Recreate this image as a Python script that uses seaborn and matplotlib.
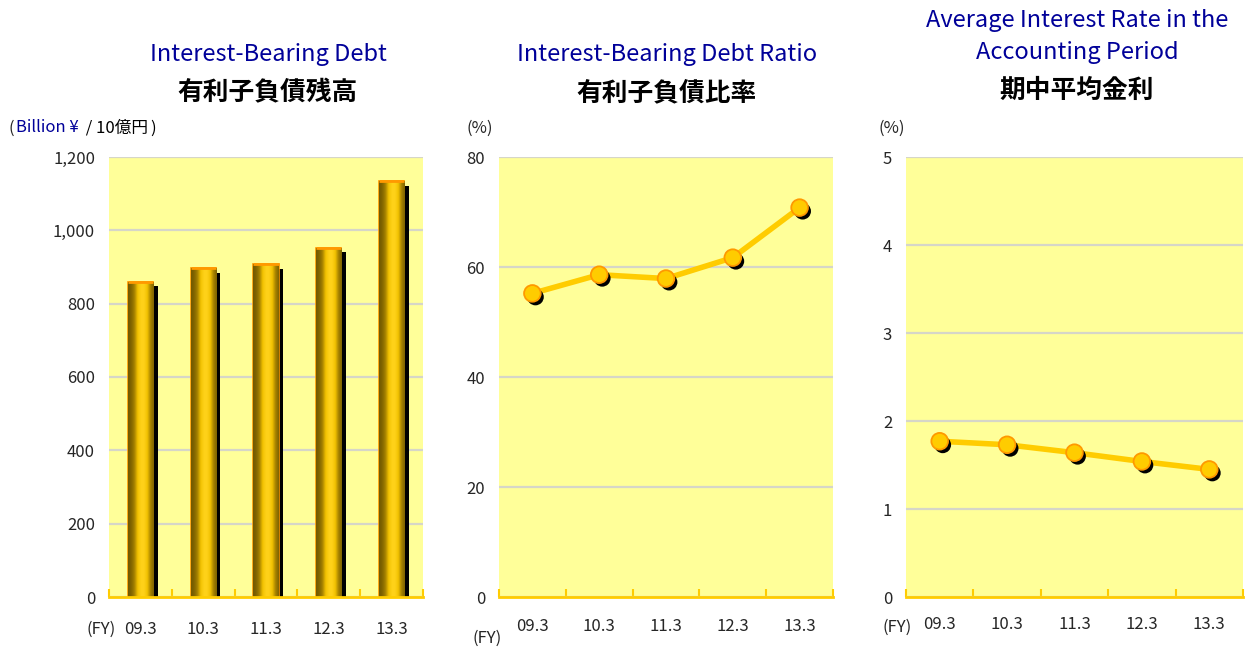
import numpy as np
import matplotlib
matplotlib.use("Agg")
import matplotlib.pyplot as plt
import matplotlib.patheffects as pe
import seaborn as sns

# data
years = ["09.3", "10.3", "11.3", "12.3", "13.3"]
debt = [860, 896, 907, 953, 1134]            # billion yen
debt_ratio = [55.2, 58.6, 57.9, 61.7, 70.8]  # %
avg_rate = [1.77, 1.73, 1.64, 1.54, 1.45]    # %

sns.set_style("white")
plt.rcParams["font.family"] = ["Noto Sans CJK JP", "DejaVu Sans"]

BG = "#FFFF99"
GOLD = "#FFCC00"
ORANGE = "#FF9900"
BLUE = "#000099"
GRID = "#D6D6C8"

fig = plt.figure(figsize=(12.45, 6.48), dpi=100)
W, H = 1245, 648


def fx(px):
    return px / W


def fy(py):
    return 1 - py / H


def make_ax(left, right, ymax, step, xpad):
    ax = fig.add_axes([fx(left), fy(597), fx(right - left), fy(157) - fy(597)])
    ax.set_facecolor(BG)
    ax.set_ylim(0, ymax)
    ax.set_yticks(np.arange(0, ymax + step / 2, step))
    ax.grid(axis="y", color=GRID, lw=1.6)
    ax.set_axisbelow(True)
    for s in ["left", "top", "right"]:
        ax.spines[s].set_visible(False)
    ax.spines["bottom"].set_color(GOLD)
    ax.spines["bottom"].set_linewidth(2)
    ax.tick_params(axis="y", length=0, pad=10, labelsize=12)
    ax.tick_params(axis="x", which="major", bottom=True, length=0,
                   pad=xpad, labelsize=12)
    ax.tick_params(axis="x", which="minor", bottom=True, length=6,
                   width=1.5, direction="in", color=GOLD)
    return ax


def finish_x(ax):
    ax.set_xlim(-0.5, 4.5)
    ax.set_xticks(range(len(years)))
    ax.set_xticklabels(years, fontsize=12)
    ax.set_xticks(np.arange(-0.5, 5, 1), minor=True)
    ax.set_xlabel("")
    ax.set_ylabel("")


# ---- chart 1: gold cylinder bars with a black drop shadow
ax1 = make_ax(109, 423, 1200, 200, 17)
sns.barplot(x=years, y=debt, ax=ax1, width=0.4, color=GOLD,
            edgecolor=ORANGE, linewidth=1.2)
ax1.yaxis.set_major_formatter(matplotlib.ticker.StrMethodFormatter("{x:,.0f}"))
finish_x(ax1)
grad = np.linspace(0, 1, 64)
shade = np.exp(-((grad - 0.56) / 0.3) ** 2)
cmap = matplotlib.colors.LinearSegmentedColormap.from_list(
    "gold", ["#6E5600", "#A88400", "#F0C000", "#FFD21A"])
for p in ax1.patches:
    p.set_path_effects([pe.SimplePatchShadow(offset=(3.3, -3.3),
                                             shadow_rgbFace="black", alpha=1),
                        pe.Normal()])
    x0, y0 = p.get_x(), p.get_y()
    im = ax1.imshow(shade[None, :], cmap=cmap, aspect="auto",
                    extent=[x0, x0 + p.get_width(), y0, y0 + p.get_height()],
                    zorder=p.get_zorder() + 0.1, vmin=0, vmax=1)
    im.set_clip_path(p)
    ax1.plot([x0, x0 + p.get_width()], [p.get_height()] * 2,
             color=ORANGE, lw=2, zorder=p.get_zorder() + 0.2,
             solid_capstyle="butt")
ax1.set_ylim(0, 1200)
ax1.set_xlim(-0.5, 4.5)


# ---- line charts
def line_chart(ax, vals):
    sns.lineplot(x=years, y=vals, ax=ax, color=GOLD, lw=4, sort=False)
    ax.plot(range(len(vals)), vals, ls="none", marker="o", ms=12,
            mfc=GOLD, mec=ORANGE, mew=1.3, zorder=5,
            path_effects=[pe.SimplePatchShadow(offset=(2.2, -2.6),
                                               shadow_rgbFace="black",
                                               alpha=1),
                          pe.Normal()])
    finish_x(ax)


ax2 = make_ax(499, 833, 80, 20, 15)
line_chart(ax2, debt_ratio)
ax3 = make_ax(906, 1243, 5, 1, 14)
line_chart(ax3, avg_rate)

# ---- titles
en_kw = dict(color=BLUE, fontsize=17, ha="center", va="center")
jp_kw = dict(color="black", fontsize=18.5, fontweight="bold",
             ha="center", va="center")
fig.text(fx(268), fy(55), "Interest-Bearing Debt", **en_kw)
fig.text(fx(268), fy(93), "有利子負債残高", **jp_kw)
fig.text(fx(667), fy(55), "Interest-Bearing Debt Ratio", **en_kw)
fig.text(fx(667), fy(93), "有利子負債比率", **jp_kw)
fig.text(fx(1077), fy(21), "Average Interest Rate in the", **en_kw)
fig.text(fx(1077), fy(52), "Accounting Period", **en_kw)
fig.text(fx(1077), fy(90), "期中平均金利", **jp_kw)

# ---- unit labels (pieces chained one after another)
t = fig.text(fx(8), fy(128), "(", fontsize=12, va="center")
for txt, col in [("Billion ¥", BLUE), (" / 10億円", "black"), (")", "black")]:
    t = fig.add_artist(matplotlib.text.Annotation(
        txt, xy=(1, 0.5), xycoords=t, xytext=(2, 0),
        textcoords="offset points", va="center", ha="left",
        fontsize=12, color=col, annotation_clip=False))
fig.text(fx(466), fy(128), "(%)", fontsize=12, va="center")
fig.text(fx(878), fy(128), "(%)", fontsize=12, va="center")

# ---- FY labels
fy_kw = dict(fontsize=12, va="center")
fig.text(fx(86), fy(629), "(FY)", **fy_kw)
fig.text(fx(473), fy(638), "(FY)", **fy_kw)
fig.text(fx(882), fy(627), "(FY)", **fy_kw)

fig.savefig("out.png", dpi=100, facecolor="white")
